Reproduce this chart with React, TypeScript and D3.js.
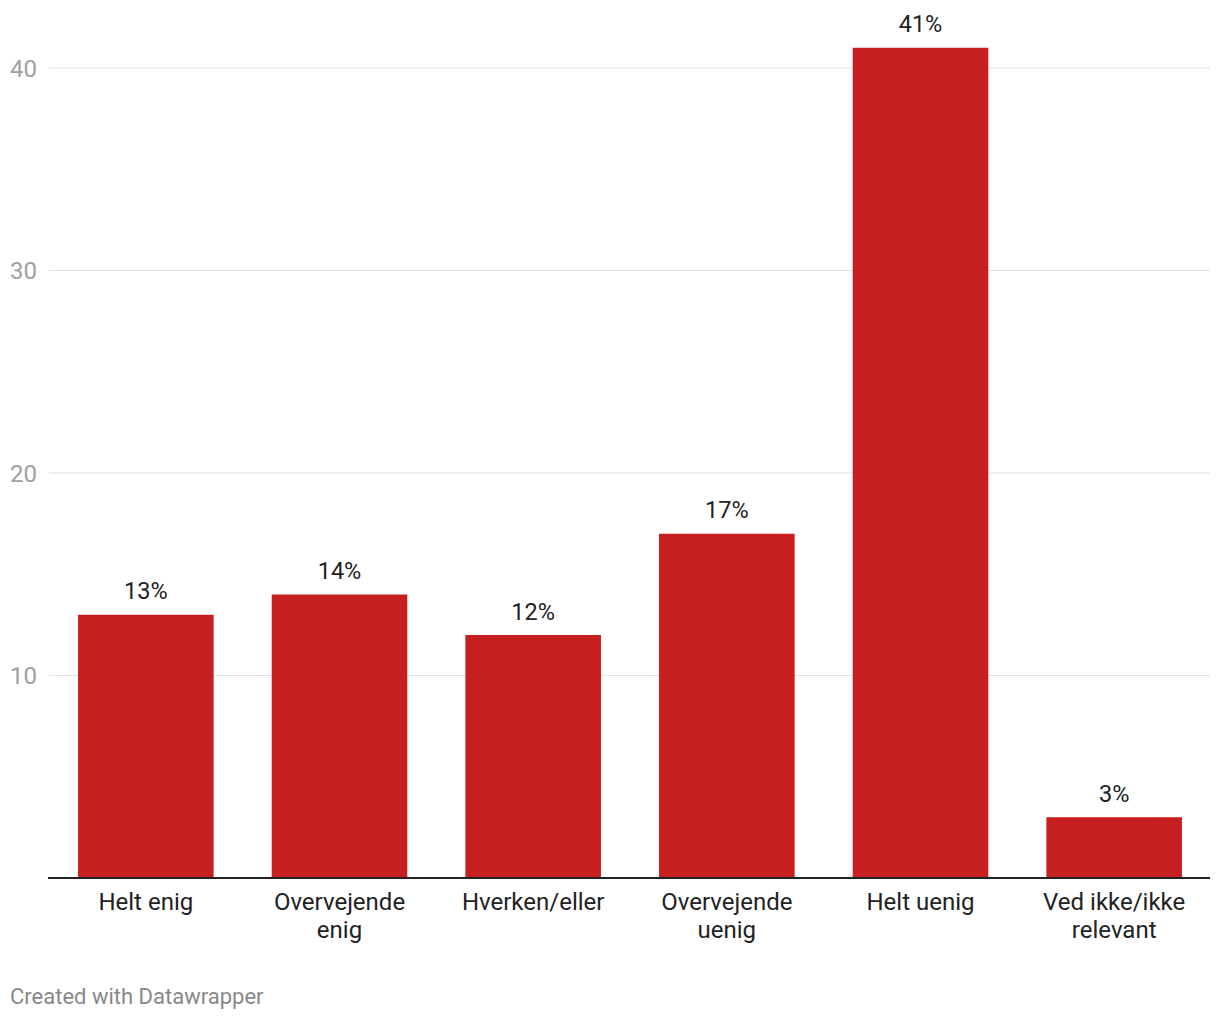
import React from "react";
import * as d3 from "d3";

const categories: string[][] = [
  ["Helt enig"],
  ["Overvejende", "enig"],
  ["Hverken/eller"],
  ["Overvejende", "uenig"],
  ["Helt uenig"],
  ["Ved ikke/ikke", "relevant"],
];
const values: number[] = [13, 14, 12, 17, 41, 3];
const yTicks: number[] = [10, 20, 30, 40];
const footer = "Created with Datawrapper";

const W = 1220;
const H = 1020;
const FONT = "Roboto, 'Noto Sans', sans-serif";
const BAR = "#c71e1f";

export default function App() {
  const left = 48;
  const right = 1210;
  const baseY = 878;
  const keys = categories.map((c) => c.join(" "));
  const x = d3.scaleBand<string>().domain(keys).range([left + 1, right + 1]).paddingInner(0.3).paddingOuter(0.15);
  const y = d3.scaleLinear().domain([0, 40]).range([baseY, 68]);

  return (
    <svg
      width={W}
      height={H}
      style={{ position: "absolute", left: 0, top: 0, background: "#fff" }}
      fontFamily={FONT}
    >
      {yTicks.map((t) => (
        <g key={t}>
          <line x1={49} x2={right} y1={y(t)} y2={y(t)} stroke="#e1e1e1" strokeWidth={1} />
          <text x={10} y={y(t)} dy="0.36em" fontSize={24} fill="#a0a0a0">
            {t}
          </text>
        </g>
      ))}
      {values.map((v, i) => {
        const k = keys[i];
        const bx = x(k)!;
        return (
          <g key={k}>
            <rect x={bx} y={y(v)} width={x.bandwidth()} height={baseY - y(v)} fill={BAR} />
            <text x={bx + x.bandwidth() / 2} y={y(v) - 15.5} textAnchor="middle" fontSize={23.5} fill="#222">
              {v}%
            </text>
            {categories[i].map((line, j) => (
              <text
                key={j}
                x={bx + x.bandwidth() / 2}
                y={910 + j * 28}
                textAnchor="middle"
                fontSize={24}
                fill="#222"
              >
                {line}
              </text>
            ))}
          </g>
        );
      })}
      <line x1={left} x2={right} y1={baseY} y2={baseY} stroke="#222" strokeWidth={2} />
      <text x={10} y={1004} fontSize={22} fill="#888">
        {footer}
      </text>
    </svg>
  );
}
